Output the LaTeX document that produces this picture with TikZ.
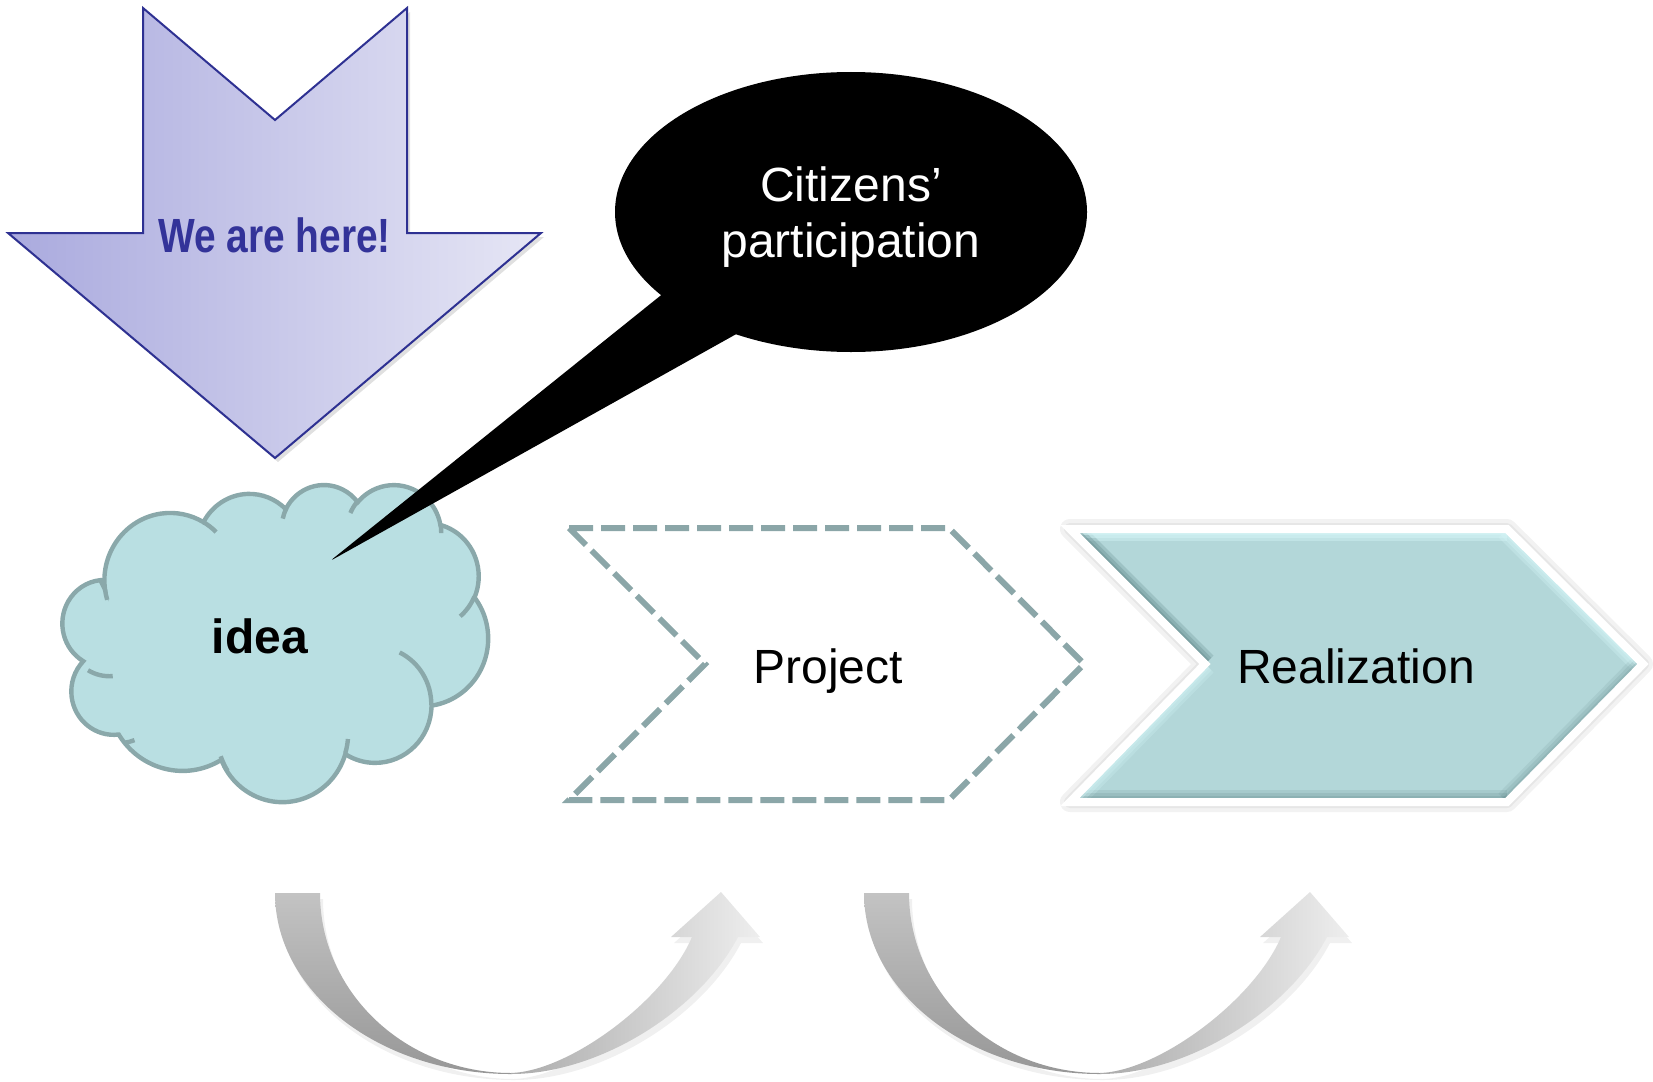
\documentclass[tikz,border=0pt]{standalone}
\usepackage{fontspec}
\setmainfont{Liberation Sans}
\newfontfamily\narrowsans[FakeStretch=0.81]{Liberation Sans}
\definecolor{arrowL}{HTML}{AAAADE}
\definecolor{arrowR}{HTML}{E6E6F5}
\definecolor{arrowLine}{HTML}{2E3192}
\definecolor{weText}{HTML}{333399}
\definecolor{cloudFill}{HTML}{B9DFE2}
\definecolor{cloudLine}{HTML}{8AA8AA}
\definecolor{projDash}{HTML}{8BA6A8}
\definecolor{realFill}{HTML}{B3D7D9}
\definecolor{realDark}{HTML}{5F8588}
\definecolor{realLight}{HTML}{D2F3F5}
\definecolor{grayA}{HTML}{C3C3C3}
\definecolor{grayB}{HTML}{979797}
\definecolor{grayC}{HTML}{ABABAB}
\definecolor{grayD}{HTML}{EEEEEE}
\tikzset{
  ooarc/.style n args={4}{start angle={atan2((#1)*sin(#3),(#2)*cos(#3))},
    delta angle={mod(atan2((#1)*sin((#3)+(#4)),(#2)*cos((#3)+(#4)))-atan2((#1)*sin(#3),(#2)*cos(#3))+720,360)},
    x radius=#1, y radius=#2},
  txt/.style={inner sep=0pt, font=\fontsize{24}{28}\selectfont},
  cloudline/.style={draw=cloudLine, line width=2.2pt},
  dashline/.style={draw=projDash, line width=3pt, dash pattern=on 12pt off 4pt},
}
\begin{document}
\begin{tikzpicture}[x=0.5pt,y=-0.5pt]
\useasboundingbox (0,0) rectangle (1653,1081);

% ---------- "We are here!" down arrow ----------
\fill[black,opacity=.12] (146,12) -- (278,124) -- (410,12) -- (410,237) -- (544,237) -- (278,462) -- (11,237) -- (146,237) -- cycle;
\shade[left color=arrowL, right color=arrowR, draw=arrowLine, line width=1pt]
  (143,8) -- (275,120) -- (407,8) -- (407,233) -- (541,233) -- (275,458) -- (8,233) -- (143,233) -- cycle;
\node[txt, anchor=base, text=weText] (we) at (274.5,252) {\narrowsans\bfseries We are here!};

% ---------- cloud ----------
\begin{scope}[shift={(67,484)}, xscale=421/432, yscale=317/432]
\filldraw[fill=cloudFill, cloudline]
  (39.00,143.70)
  arc[ooarc={67.53}{91.90}{-190.4875}{123.7805}]
  arc[ooarc={53.33}{72.67}{-144.1024}{89.9452}]
  arc[ooarc={43.65}{59.45}{-145.8079}{99.7230}]
  arc[ooarc={48.57}{65.95}{-130.9861}{117.2417}]
  arc[ooarc={53.33}{72.73}{-78.7089}{109.0269}]
  arc[ooarc={67.75}{92.20}{-46.2673}{130.2690}]
  arc[ooarc={57.85}{78.67}{0.6250}{114.0333}]
  arc[ooarc={67.52}{92.15}{22.4584}{128.6780}]
  arc[ooarc={77.20}{105.43}{66.2486}{73.2802}]
  arc[ooarc={43.60}{59.18}{-274.9421}{147.7194}]
  arc[ooarc={43.45}{59.45}{-246.8285}{152.5246}] -- cycle;
\draw[cloudline]
  (46.93,261.77) arc[ooarc={43.45}{59.45}{86.7420}{26.4295}]
  (69.28,348.99) arc[ooarc={43.60}{59.18}{73.6105}{11.4475}]
  (164.78,390.90) arc[ooarc={77.20}{105.43}{139.5288}{14.0811}]
  (288.27,347.51) arc[ooarc={67.52}{92.15}{6.4533}{15.9984}]
  (341.29,229.54) arc[ooarc={57.85}{78.67}{-70.2924}{70.9174}]
  (417.98,153.54) arc[ooarc={53.33}{72.73}{30.3180}{27.7515}]
  (383.24,54.26) arc[ooarc={48.57}{65.95}{-13.7443}{14.8589}]
  (290.78,39.52) arc[ooarc={48.57}{65.95}{-149.1815}{18.1954}]
  (221.41,47.20) arc[ooarc={43.65}{59.45}{-163.4943}{17.6864}]
  (140.00,51.92) arc[ooarc={67.53}{91.90}{-66.7070}{12.3194}]
  (41.27,157.89) arc[ooarc={67.53}{91.90}{157.6544}{11.8582}];
\end{scope}
\node[txt, anchor=base, font=\fontsize{24}{28}\selectfont\bfseries] (idea) at (260,653) {idea};

% ---------- speech bubble ----------
\fill[black] (851,212) ellipse[x radius=236, y radius=140];
\coordinate (tailA) at (675,284);
\coordinate (tailB) at (765,318);
\coordinate (tailTip) at (330,561);
\fill[black, rounded corners=2pt] (tailA) -- (tailTip) -- (tailB) -- cycle;
\node[txt, anchor=base, text=white] (cit1) at (851,201) {Citizens’};
\node[txt, anchor=base, text=white] (cit2) at (851,257) {participation};

% ---------- Project chevron (dashed) ----------
\draw[dashline] (569,528) -- (949,528) -- (1084,664) -- (949,800) -- (569,800) -- (705,664) -- cycle;
\node[txt, anchor=base] (project) at (828,683) {Project};

% ---------- Realization chevron ----------
\coordinate (r1) at (1070,529);
\coordinate (r2) at (1507,529);
\coordinate (r3) at (1643,664);
\coordinate (r4) at (1507,802);
\coordinate (r5) at (1070,802);
\coordinate (r6) at (1205,664);
\draw[black, opacity=.05, line width=10pt, line join=round, shift={(2,5)}] (r1) -- (r2) -- (r3) -- (r4) -- (r5) -- (r6) -- cycle;
\draw[black, opacity=.05, line width=6pt, line join=round, shift={(1,3)}] (r1) -- (r2) -- (r3) -- (r4) -- (r5) -- (r6) -- cycle;
\fill[realFill] (r1) -- (r2) -- (r3) -- (r4) -- (r5) -- (r6) -- cycle;
\begin{scope}
  \clip (r1) -- (r2) -- (r3) -- (r4) -- (r5) -- (r6) -- cycle;
  \foreach \w/\o in {12/.25, 9/.3, 6/.35}{
    \draw[realLight, opacity=\o+.2, line width=\w pt] (r1) -- (r2);
    \draw[realLight, opacity=\o+.1, line width=\w pt] (r2) -- (r3);
    \draw[realDark, opacity=\o*.5, line width=\w pt] (r3) -- (r4);
    \draw[realDark, opacity=\o*.6, line width=\w pt] (r4) -- (r5);
    \draw[realLight, opacity=\o, line width=\w pt] (r5) -- (r6);
    \draw[realDark, opacity=\o, line width=\w pt] (r6) -- (r1);
  }
\end{scope}
\draw[white, line width=4pt, line join=miter] (r1) -- (r2) -- (r3) -- (r4) -- (r5) -- (r6) -- cycle;
\node[txt, anchor=base] (real) at (1356,683) {Realization};

% ---------- curved gray arrows ----------
\foreach \dx/\nm in {0/ca, 589/cb}{
\begin{scope}[shift={(\dx,0)}]
  \fill[black, opacity=.06, shift={(3,6)}]
    (275,893) arc[start angle=180, end angle=90, x radius=236, y radius=181]
    .. controls (600,1074) and (700,1010) .. (738,937) -- (760,937) -- (721,892) -- (671,937) -- (692,937)
    .. controls (665,1000) and (570,1071) .. (511,1073)
    arc[start angle=90, end angle=180, x radius=191, y radius=180] -- cycle;
  \shade[top color=grayA, bottom color=grayB]
    (275,893) arc[start angle=180, end angle=90, x radius=236, y radius=181]
    -- (511,1073) arc[start angle=90, end angle=180, x radius=191, y radius=180] -- cycle;
  \shade[left color=grayC, right color=grayD]
    (511,1074) .. controls (600,1074) and (700,1010) .. (738,937) -- (760,937) -- (721,892) -- (671,937) -- (692,937)
    .. controls (665,1000) and (570,1071) .. (511,1073) -- cycle;
  \coordinate (\nm) at (511,1074);
\end{scope}
}
\end{tikzpicture}
\end{document}
